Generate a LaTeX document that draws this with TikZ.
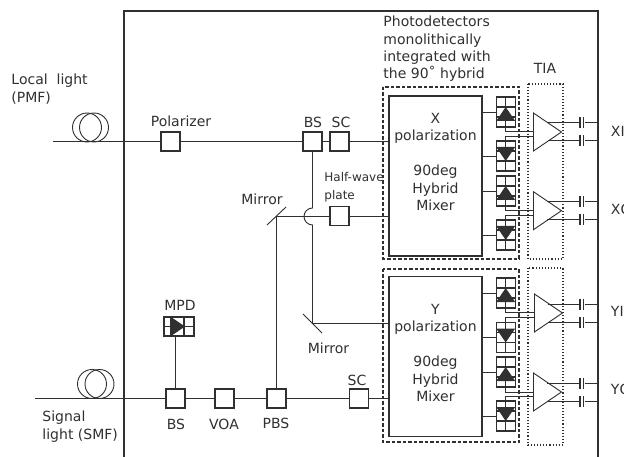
\documentclass[tikz,border=0pt]{standalone}
\usepackage{fontspec}
\setmainfont{DejaVu Sans}
\usetikzlibrary{shapes.geometric}
\definecolor{ink}{HTML}{303030}
\tikzset{x=1pt,y=-1pt,
         box/.style={rectangle,draw=ink,fill=white,line width=1.1pt,minimum size=19pt,inner sep=0pt},
         mixer/.style={rectangle,draw=ink,line width=1.2pt,minimum width=93pt,minimum height=160pt,inner sep=0pt},
         txt/.style={text=ink,inner sep=0pt,font=\fontsize{14}{17.4}\selectfont,align=left},
         coil/.style={circle,draw=ink,line width=0.9pt,inner sep=0pt,minimum size=29pt},
         amp/.style={isosceles triangle,isosceles triangle apex angle=70,isosceles triangle stretches,
           draw=ink,line width=0.9pt,inner sep=0pt,minimum width=38pt,minimum height=28pt,anchor=lower side},
         capac/.style={rectangle,inner sep=0pt,minimum width=5pt,minimum height=11pt,
           path picture={\draw[shift={(path picture bounding box.center)},line width=1.4pt] (-1.8,-5.5) -- (-1.8,5.5) (1.8,-5.5) -- (1.8,5.5);}},
         pdup/.style={rectangle,draw=ink,line width=1.1pt,inner sep=0pt,minimum width=19pt,minimum height=30pt,
           path picture={\draw[shift={(path picture bounding box.center)}] (0,-15) -- (0,15) (-9.5,-5) -- (9.5,-5) (-9.5,5) -- (9.5,5);
             \fill[ink,shift={(path picture bounding box.center)}] (0,-5) -- (9.5,9) -- (-9.5,9) -- cycle;}},
         pddown/.style={rectangle,draw=ink,line width=1.1pt,inner sep=0pt,minimum width=19pt,minimum height=30pt,
           path picture={\draw[shift={(path picture bounding box.center)}] (0,-15) -- (0,15) (-9.5,-5) -- (9.5,-5) (-9.5,5) -- (9.5,5);
             \fill[ink,shift={(path picture bounding box.center)}] (0,5) -- (9.5,-9) -- (-9.5,-9) -- cycle;}},
         pdside/.style={rectangle,draw=ink,line width=1.1pt,inner sep=0pt,minimum width=30pt,minimum height=19pt,
           path picture={\draw[shift={(path picture bounding box.center)}] (-15,0) -- (15,0) (-8,-9.5) -- (-8,9.5) (5,-9.5) -- (5,9.5);
             \fill[ink,shift={(path picture bounding box.center)}] (-8,-9.5) -- (6,0) -- (-8,9.5) -- cycle;}},
         dashbox/.style={dash pattern=on 3.5pt off 2pt,line width=1.1pt},
         dotbox/.style={dotted,line width=1.1pt}}

\begin{document}
\begin{tikzpicture}[ink,line width=0.9pt]
\clip (0,0) rectangle (624,457);
\fill[white] (0,0) rectangle (624,457);

% outer frame
\draw[line width=1.2pt] (124,457) -- (124,11) -- (598,11) -- (598,457);

% free ends
\coordinate (locend) at (53,141.5);
\coordinate (sigend) at (35,398.5);
\coordinate (mirrorup) at (276.5,216);
\coordinate (mirrorlow) at (312.5,323);

% fibres and boxes
\node[coil] (loca) at (87,127.5) {};
\node[coil] (locb) at (94,127.5) {};
\node[coil] (siga) at (92,384) {};
\node[coil] (sigb) at (99.5,384) {};
\node[box] (pol) at (170.5,141.5) {};
\node[box,line width=1.5pt] (bsx) at (312.5,141.5) {};
\node[box] (scx) at (339.5,141.5) {};
\node[box] (hwp) at (339.5,216) {};
\node[box] (bss) at (175.5,398.5) {};
\node[box] (voa) at (224.5,398.5) {};
\node[box] (pbs) at (276.5,398.5) {};
\node[box] (scy) at (359,398.5) {};
\node[pdside] (mpd) at (179,326.5) {};

% mixers
\node[mixer] (mixx) at (435.5,176) {};
\node[mixer] (mixy) at (435.5,356.5) {};
\draw[dashbox] (383,87) rectangle (519,259);
\draw[dashbox] (383,269) rectangle (519,442);
\draw[dotbox] (528,84) rectangle (563,259);
\draw[dotbox] (528,268) rectangle (563,445);

% photodiodes
\node[pdup] (pda) at (505.7,112) {};
\node[pddown] (pdb) at (505.7,156) {};
\node[pdup] (pdc) at (505.7,191) {};
\node[pddown] (pdd) at (505.7,235) {};
\node[pdup] (pde) at (505.7,293) {};
\node[pddown] (pdf) at (505.7,337.5) {};
\node[pdup] (pdg) at (505.7,372) {};
\node[pddown] (pdh) at (505.7,416) {};

% TIAs
\node[amp] (ampa) at (533,132) {};
\node[amp] (ampb) at (533,210.7) {};
\node[amp] (ampc) at (534,313) {};
\node[amp] (ampd) at (533,392) {};

% TIA leads
\coordinate (ina) at (533,131.7);
\coordinate (inb) at (533,136);
\coordinate (inc) at (533,210.7);
\coordinate (ind) at (533,215);
\coordinate (ine) at (534,312.7);
\coordinate (inf) at (534,317.3);
\coordinate (ing) at (533,392);
\coordinate (inh) at (533,396.7);

% capacitors
\node[capac] (capa) at (581.7,122.7) {};
\node[capac] (capb) at (581.7,140.7) {};
\node[capac] (capc) at (581.7,201.7) {};
\node[capac] (capd) at (581.7,219.3) {};
\node[capac] (cape) at (581.7,304) {};
\node[capac] (capf) at (581.7,322.3) {};
\node[capac] (capg) at (581.7,383.3) {};
\node[capac] (caph) at (581.7,401.3) {};

\begin{scope}
    \path [-] (locend) edge (pol);
    \path [-] (pol) edge (bsx);
    \path [-] (bsx) edge (scx);
    \path [-] (scx) edge (mixx.west |- scx);
    \path [-] (mirrorup) edge (hwp);
    \path [-] (hwp) edge (mixx.west |- hwp);
    \path [-] (sigend) edge (bss);
    \path [-] (bss) edge (voa);
    \path [-] (voa) edge (pbs);
    \path [-] (pbs) edge (scy);
    \path [-] (scy) edge (mixy.west |- scy);
    \path [-] (bss) edge (bss |- mpd.south);
    \path [-] (pbs) edge (mirrorup);
    \path [-] (mixx.east |- pda) edge (pda);
    \path [-] (mixx.east |- pdb) edge (pdb);
    \path [-] (mixx.east |- pdc) edge (pdc);
    \path [-] (mixx.east |- pdd) edge (pdd);
    \path [-] (mixy.east |- pde) edge (pde);
    \path [-] (mixy.east |- pdf) edge (pdf);
    \path [-] (mixy.east |- pdg) edge (pdg);
    \path [-] (mixy.east |- pdh) edge (pdh);
\end{scope}
\draw (mirrorlow) -- (mixy.west |- mirrorlow);
\draw (bsx.south) -- (312.5,208) arc[start angle=90,end angle=270,radius=8.5pt] -- (mirrorlow);
\draw (mirrorup) ++(-9.5,9) -- ++(19,-18);
\draw (mirrorlow) ++(-9.5,-9) -- ++(19,19);

\draw (pda.south) |- (ina);
\draw (pdb.north) |- (inb);
\draw (pdc.south) |- (inc);
\draw (pdd.north) |- (ind);
\draw (pde.south) |- (ine);
\draw (pdf.north) |- (inf);
\draw (pdg.south) |- (ing);
\draw (pdh.north) |- (inh);

% TIA outputs
\draw (547,122.7) -- (capa.west);  \draw (capa.east) -- (598,122.7);
\draw (548,140.7) -- (capb.west);  \draw (capb.east) -- (598,140.7);
\draw (547,201.7) -- (capc.west);  \draw (capc.east) -- (598,201.7);
\draw (547,219.3) -- (capd.west);  \draw (capd.east) -- (598,219.3);
\draw (548,304) -- (cape.west);    \draw (cape.east) -- (598,304);
\draw (548,322.3) -- (capf.west);  \draw (capf.east) -- (598,322.3);
\draw (547,383.3) -- (capg.west);  \draw (capg.east) -- (598,383.3);
\draw (547,401.3) -- (caph.west);  \draw (caph.east) -- (598,401.3);

% labels
\begin{scope}[every node/.style={txt}]
    \node[anchor=west] (loclab) at (11,89) {Local\ \ light\\(PMF)};
    \node[anchor=west] (siglab) at (42,426.5) {Signal\\light (SMF)};
    \node (pollab) at (181,121) {Polarizer};
    \node (bsxlab) at (313,122) {BS};
    \node (scxlab) at (341,122) {SC};
    \node (mirlaba) at (262,199) {Mirror};
    \node (mirlabb) at (328.5,348) {Mirror};
    \node (mpdlab) at (180,305) {MPD};
    \node (bsslab) at (176,424) {BS};
    \node (voalab) at (224,424) {VOA};
    \node (pbslab) at (276,423) {PBS};
    \node (scylab) at (357,380) {SC};
    \node (tialab) at (545,68) {TIA};
    \node[anchor=west] (pdlab) at (383,49) {Photodetectors\\monolithically\\integrated with\\the 90˚ hybrid};
    \node[anchor=west,font=\fontsize{12}{18}\selectfont] (hwplab) at (324,187) {Half-wave\\plate};
    \node[align=center] (xtxt) at (435.5,162) {X\\polarization\\[17.4pt]90deg\\Hybrid\\Mixer};
    \node[align=center] (ytxt) at (435.5,353) {Y\\polarization\\[17.4pt]90deg\\Hybrid\\Mixer};
    \node[anchor=west] (xilab) at (610.5,131) {XI};
    \node[anchor=west] (xqlab) at (610.5,210) {XQ};
    \node[anchor=west] (yilab) at (610.5,311) {YI};
    \node[anchor=west] (yqlab) at (610.5,390) {YQ};
\end{scope}
\end{tikzpicture}
\end{document}
